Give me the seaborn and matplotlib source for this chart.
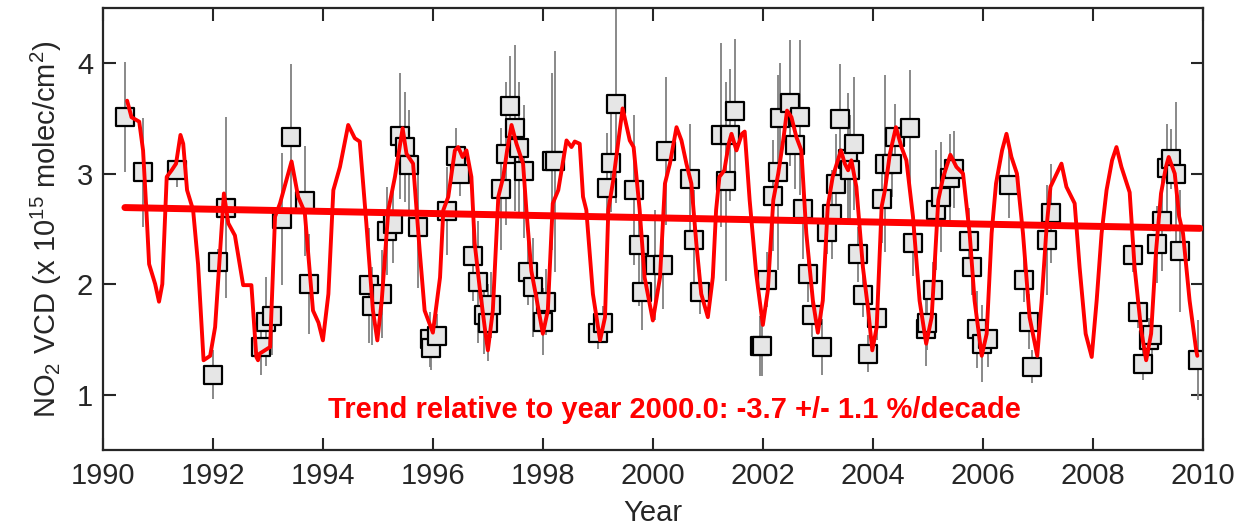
import numpy as np
import pandas as pd
import matplotlib
matplotlib.use("Agg")
import matplotlib.pyplot as plt
import seaborn as sns

# ---- data ----
obs_year = [1990.41, 1990.73, 1991.34, 1992.00, 1992.10, 1992.24, 1992.88, 1992.97, 1993.07, 1993.25,
            1993.42, 1993.67, 1993.75, 1994.84, 1994.89, 1995.07, 1995.16, 1995.28, 1995.40, 1995.50,
            1995.57, 1995.73, 1995.95, 1995.97, 1996.07, 1996.25, 1996.42, 1996.49, 1996.73, 1996.82,
            1996.93, 1997.00, 1997.05, 1997.24, 1997.33, 1997.40, 1997.49, 1997.57, 1997.66, 1997.73,
            1997.82, 1998.00, 1998.05, 1998.16, 1998.22, 1999.00, 1999.09, 1999.16, 1999.24, 1999.33,
            1999.66, 1999.75, 1999.81, 2000.03, 2000.18, 2000.23, 2000.67, 2000.75, 2000.85, 2001.23,
            2001.33, 2001.41, 2001.50, 2001.95, 2001.98, 2002.07, 2002.18, 2002.27, 2002.31, 2002.50,
            2002.58, 2002.68, 2002.73, 2002.83, 2002.90, 2003.07, 2003.16, 2003.25, 2003.33, 2003.40,
            2003.54, 2003.58, 2003.66, 2003.73, 2003.82, 2003.92, 2004.08, 2004.16, 2004.23, 2004.34,
            2004.40, 2004.67, 2004.73, 2004.96, 2004.99, 2005.10, 2005.15, 2005.24, 2005.41, 2005.47,
            2005.75, 2005.81, 2005.89, 2005.98, 2006.10, 2006.48, 2006.74, 2006.84, 2006.90, 2007.17,
            2007.24, 2008.73, 2008.83, 2008.91, 2009.02, 2009.07, 2009.17, 2009.26, 2009.34, 2009.42,
            2009.52, 2009.59, 2009.91]
obs_vcd = [3.51, 3.01, 3.03, 1.18, 2.20, 2.69, 1.43, 1.66, 1.71, 2.59,
           3.33, 2.75, 2.00, 1.99, 1.80, 1.91, 2.48, 2.54, 3.34, 3.24,
           3.08, 2.52, 1.50, 1.42, 1.53, 2.66, 3.16, 3.00, 2.25, 2.02,
           1.72, 1.65, 1.81, 2.86, 3.18, 3.61, 3.41, 3.23, 3.02, 2.11,
           1.97, 1.66, 1.84, 3.11, 3.11, 1.56, 1.65, 2.87, 3.10, 3.63,
           2.85, 2.35, 1.93, 2.17, 2.17, 3.20, 2.95, 2.40, 1.93, 3.35,
           2.93, 3.35, 3.57, 1.44, 1.44, 2.04, 2.80, 3.01, 3.50, 3.64,
           3.26, 3.51, 2.68, 2.09, 1.72, 1.43, 2.47, 2.63, 2.91, 3.49,
           3.13, 3.03, 3.27, 2.27, 1.90, 1.37, 1.69, 2.77, 3.09, 3.09,
           3.33, 3.41, 2.37, 1.59, 1.65, 1.95, 2.67, 2.79, 2.96, 3.04,
           2.39, 2.15, 1.59, 1.46, 1.50, 2.90, 2.04, 1.66, 1.25, 2.40,
           2.64, 2.26, 1.75, 1.28, 1.49, 1.54, 2.36, 2.57, 3.05, 3.13,
           3.00, 2.30, 1.31]
obs_err = [0.50, 0.49, 0.15, 0.22, 0.12, 0.82, 0.25, 0.40, 0.35, 0.60,
           0.66, 0.50, 0.45, 0.52, 0.35, 0.40, 0.40, 0.35, 0.57, 0.50,
           0.50, 0.56, 0.25, 0.20, 0.20, 0.40, 0.25, 0.20, 0.40, 0.55,
           0.35, 0.35, 0.30, 0.55, 0.65, 0.45, 0.75, 0.60, 0.60, 0.30,
           0.45, 0.30, 0.30, 0.80, 1.00, 0.15, 0.15, 0.50, 0.45, 0.90,
           0.68, 0.55, 0.35, 0.50, 0.40, 0.67, 0.50, 0.45, 0.20, 0.83,
           0.90, 0.60, 0.65, 0.27, 0.27, 0.25, 0.50, 0.88, 0.50, 0.57,
           0.40, 0.70, 0.45, 0.25, 0.20, 0.25, 0.20, 0.40, 0.45, 0.50,
           0.60, 0.50, 0.60, 0.25, 0.20, 0.17, 0.20, 0.40, 0.80, 0.30,
           0.30, 0.53, 0.30, 0.33, 0.25, 0.25, 0.54, 0.50, 0.40, 0.35,
           0.30, 0.25, 0.35, 0.35, 0.25, 0.30, 0.20, 0.25, 0.15, 0.50,
           0.45, 0.15, 0.15, 0.15, 0.20, 0.20, 0.35, 0.45, 0.40, 0.27,
           0.65, 0.55, 0.36]

fit_year = [1990.44, 1990.52, 1990.66, 1990.73, 1990.79, 1990.84, 1990.95, 1991.02, 1991.08, 1991.16,
            1991.25, 1991.33, 1991.41, 1991.46, 1991.53, 1991.64, 1991.73, 1991.83, 1991.95, 1992.04,
            1992.20, 1992.28, 1992.40, 1992.55, 1992.70, 1992.79, 1992.82, 1992.85, 1993.04, 1993.13,
            1993.22, 1993.43, 1993.55, 1993.67, 1993.82, 1993.92, 1994.00, 1994.10, 1994.19, 1994.31,
            1994.46, 1994.58, 1994.67, 1994.79, 1994.91, 1994.99, 1995.07, 1995.19, 1995.31, 1995.45,
            1995.52, 1995.64, 1995.76, 1995.85, 1996.00, 1996.13, 1996.19, 1996.28, 1996.40, 1996.46,
            1996.54, 1996.61, 1996.70, 1996.76, 1996.85, 1996.95, 1997.00, 1997.09, 1997.19, 1997.28,
            1997.35, 1997.43, 1997.52, 1997.64, 1997.70, 1997.79, 1997.88, 1998.00, 1998.09, 1998.18,
            1998.28, 1998.43, 1998.52, 1998.58, 1998.67, 1998.73, 1998.79, 1998.91, 1999.04, 1999.13,
            1999.19, 1999.28, 1999.45, 1999.58, 1999.65, 1999.76, 1999.85, 2000.00, 2000.13, 2000.22,
            2000.31, 2000.43, 2000.52, 2000.61, 2000.70, 2000.79, 2000.88, 2001.00, 2001.09, 2001.15,
            2001.21, 2001.30, 2001.38, 2001.43, 2001.52, 2001.58, 2001.62, 2001.67, 2001.76, 2001.88,
            2002.00, 2002.09, 2002.19, 2002.28, 2002.37, 2002.44, 2002.52, 2002.61, 2002.70, 2002.79,
            2002.91, 2003.00, 2003.09, 2003.18, 2003.27, 2003.42, 2003.49, 2003.55, 2003.61, 2003.70,
            2003.82, 2003.91, 2003.99, 2004.07, 2004.16, 2004.22, 2004.31, 2004.42, 2004.52, 2004.61,
            2004.73, 2004.85, 2004.97, 2005.07, 2005.19, 2005.28, 2005.41, 2005.52, 2005.64, 2005.76,
            2005.85, 2005.98, 2006.07, 2006.16, 2006.24, 2006.35, 2006.43, 2006.52, 2006.62, 2006.73,
            2006.85, 2006.99, 2007.07, 2007.16, 2007.23, 2007.43, 2007.52, 2007.67, 2007.76, 2007.87,
            2007.98, 2008.07, 2008.16, 2008.25, 2008.35, 2008.43, 2008.52, 2008.67, 2008.76, 2008.88,
            2008.97, 2009.06, 2009.15, 2009.24, 2009.33, 2009.38, 2009.49, 2009.57, 2009.64, 2009.76,
            2009.88, 2009.90]
fit_vcd = [3.66, 3.51, 3.47, 3.21, 2.67, 2.18, 2.00, 1.84, 2.00, 2.97,
           3.03, 3.09, 3.35, 3.27, 2.85, 2.67, 2.18, 1.31, 1.35, 1.61,
           2.82, 2.55, 2.44, 1.99, 1.99, 1.34, 1.31, 1.37, 1.43, 2.61,
           2.73, 3.11, 2.79, 2.65, 1.76, 1.65, 1.49, 1.91, 2.85, 3.06,
           3.44, 3.32, 3.29, 2.55, 1.76, 1.49, 1.85, 2.67, 2.97, 3.41,
           3.18, 3.09, 2.30, 1.76, 1.56, 2.06, 2.67, 2.79, 3.21, 3.24,
           3.15, 3.21, 2.97, 2.37, 1.97, 1.58, 1.40, 1.76, 2.79, 2.97,
           3.21, 3.44, 3.27, 3.09, 2.67, 2.12, 1.88, 1.55, 1.76, 2.73,
           2.85, 3.30, 3.24, 3.29, 3.27, 2.79, 2.67, 1.91, 1.49, 1.70,
           2.67, 2.94, 3.59, 3.30, 3.24, 2.67, 2.06, 1.67, 2.06, 2.91,
           3.09, 3.42, 3.30, 3.09, 2.91, 2.37, 1.91, 1.70, 2.06, 2.67,
           2.97, 3.03, 3.27, 3.36, 3.21, 3.30, 3.36, 3.38, 2.76, 2.09,
           1.63, 1.94, 2.76, 3.00, 3.30, 3.57, 3.51, 3.33, 3.21, 2.46,
           1.85, 1.56, 1.85, 2.70, 2.97, 3.21, 3.09, 3.03, 3.12, 2.88,
           2.15, 1.79, 1.40, 1.61, 2.70, 2.85, 3.18, 3.42, 3.24, 3.12,
           2.61, 1.85, 1.46, 1.70, 2.76, 2.97, 3.17, 3.06, 3.00, 2.46,
           1.85, 1.35, 1.55, 2.46, 2.91, 3.21, 3.36, 3.15, 3.00, 2.46,
           1.70, 1.35, 1.85, 2.52, 2.88, 3.09, 2.88, 2.73, 2.15, 1.55,
           1.34, 1.85, 2.46, 2.85, 3.12, 3.24, 3.06, 2.83, 2.15, 1.58,
           1.31, 1.55, 2.30, 2.82, 3.06, 3.15, 3.00, 2.61, 2.46, 1.85,
           1.40, 1.35]

trend_span = [1990.40, 2009.95]
trend_ref_value = 2.60       # VCD at year 2000.0
trend_pct_decade = -3.7
trend_text = "Trend relative to year 2000.0: -3.7 +/- 1.1 %/decade"

x_ticks = [1990, 1992, 1994, 1996, 1998, 2000, 2002, 2004, 2006, 2008, 2010]
y_ticks = [1, 2, 3, 4]

obs = pd.DataFrame({"year": obs_year, "vcd": obs_vcd, "err": obs_err})
fit = pd.DataFrame({"year": fit_year, "vcd": fit_vcd})
trend = pd.DataFrame({"year": trend_span})
trend["vcd"] = trend_ref_value * (1 + trend_pct_decade / 100 * (trend["year"] - 2000.0) / 10)

# ---- plot ----
sns.set_style("ticks")
plt.rcParams["font.family"] = ["Liberation Sans", "DejaVu Sans"]
plt.rcParams["mathtext.fontset"] = "custom"
plt.rcParams["mathtext.rm"] = "Liberation Sans"
plt.rcParams["mathtext.it"] = "Liberation Sans"

fig = plt.figure(figsize=(12.4, 5.26), dpi=100)
ax = fig.add_axes([0.083, 0.145, 0.887, 0.84])

ax.vlines(obs["year"], obs["vcd"] - obs["err"], obs["vcd"] + obs["err"],
          color="#808080", linewidth=1.3, zorder=1)
sns.scatterplot(data=obs, x="year", y="vcd", marker="s", s=165, color="#e6e6e6",
                edgecolor="black", linewidth=1.6, ax=ax, zorder=2, legend=False)
sns.lineplot(data=fit, x="year", y="vcd", color="red", linewidth=2.8, sort=False,
             estimator=None, ax=ax, zorder=3)
sns.lineplot(data=trend, x="year", y="vcd", color="red", linewidth=5, sort=False,
             estimator=None, ax=ax, zorder=4)

ax.text(2000.4, 0.86, trend_text, color="red", fontsize=21, fontweight="bold",
        ha="center", va="center")

ax.set_xlim(1990, 2010)
ax.set_ylim(0.5, 4.5)
ax.set_xticks(x_ticks)
ax.set_yticks(y_ticks)
ax.set_xlabel("Year", fontsize=21, labelpad=6)
ax.set_ylabel(r"NO$_2$ VCD (x 10$^{15}$ molec/cm$^2$)", fontsize=21, labelpad=9)
ax.tick_params(direction="in", length=9, width=1.5, labelsize=21, top=True, right=True)
ax.tick_params(axis="x", pad=9)
ax.tick_params(axis="y", pad=7)
for s in ax.spines.values():
    s.set_visible(True)
    s.set_linewidth(1.6)

fig.savefig("out.png", dpi=100)
